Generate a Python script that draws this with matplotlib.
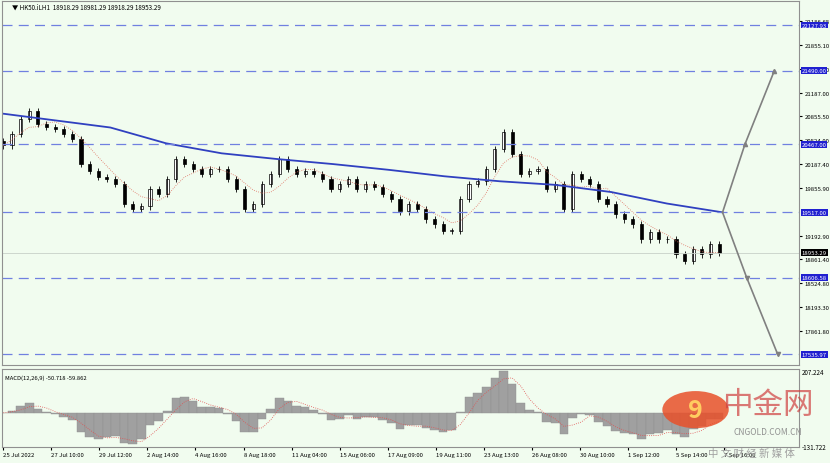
import matplotlib.pyplot as plt
import numpy as np
import pandas as pd
from matplotlib.patches import Rectangle, Circle

plt.rcParams['font.family'] = ['Noto Sans CJK SC', 'DejaVu Sans']

# hourly closes (sampled), HK50
closes = [20450, 20610, 20820, 20930, 20750, 20710, 20680, 20610, 20540, 20190,
          20090, 20010, 19980, 19910, 19630, 19560, 19600, 19840, 19770, 19980,
          20260, 20190, 20120, 20050, 20120, 20120, 19980, 19840, 19560, 19630,
          19910, 20050, 20260, 20120, 20050, 20090, 20050, 19980, 19840, 19910,
          19980, 19840, 19910, 19870, 19770, 19700, 19530, 19630, 19560, 19420,
          19350, 19260, 19260, 19700, 19910, 19950, 20120, 20400, 20640, 20330,
          20050, 20090, 20120, 19840, 19910, 19560, 20050, 19980, 19910, 19700,
          19630, 19490, 19420, 19350, 19140, 19240, 19140, 19140, 18930, 18840,
          19000, 18930, 19070, 18953]
slow_ma = [20900, 20800, 20700, 20480, 20340, 20260, 20190, 20110, 20020, 19950,
           19900, 19800, 19640, 19517]
levels = [22127.93, 21490.00, 20467.00, 19517.00, 18606.58, 17535.97]
yticks = [22186.65, 21855.10, 21518.50, 21187.00, 20855.50, 20524.00, 20187.40,
          19855.90, 19192.90, 18861.40, 18524.80, 18193.30, 17861.80]
xlabels = ['25 Jul 2022', '27 Jul 10:00', '29 Jul 12:00', '2 Aug 14:00', '4 Aug 16:00',
           '8 Aug 18:00', '11 Aug 04:00', '15 Aug 06:00', '17 Aug 09:00', '19 Aug 11:00',
           '23 Aug 13:00', '26 Aug 08:00', '30 Aug 10:00', '1 Sep 12:00', '5 Sep 14:00',
           '7 Sep 16:00']
n = len(closes)
# projection paths (bar index, price)
up_x = [n - 0.6, n + 2.0, n + 5.4]
up_y = [19517, 20467, 21490]
dn_x = [n - 0.6, n + 2.2, n + 5.8]
dn_y = [19517, 18606.58, 17535.97]
current = 18953.29

bg = '#f1fcef'
fig = plt.figure(figsize=(8.3, 4.64), dpi=100, facecolor=bg)
ax = fig.add_axes([0.003, 0.211, 0.96, 0.785], facecolor=bg)
mx = fig.add_axes([0.003, 0.035, 0.96, 0.168], facecolor=bg, sharex=ax)

opens = [closes[0] + 60] + closes[:-1]
for i, (o, c) in enumerate(zip(opens, closes)):
    lo, hi = min(o, c), max(o, c)
    ax.vlines(i, lo - 45, hi + 45, color='black', lw=0.6)
    ax.add_patch(Rectangle((i - 0.18, lo), 0.36, max(hi - lo, 8),
                           facecolor='white' if c >= o else 'black',
                           edgecolor='black', lw=0.5))

fast = pd.Series(closes).rolling(5, min_periods=1).mean()
ax.plot(range(n), fast, color='#e07060', lw=0.6, ls=':')
ax.plot(np.linspace(-0.5, n - 0.6, len(slow_ma)), slow_ma, color='#3040c0', lw=1.3)

for lv in levels:
    ax.axhline(lv, color='#7080e0', lw=0.9, ls=(0, (8, 5)))
ax.axhline(current, color='#c8d0c8', lw=0.6)

ax.plot(up_x, up_y, color='#808080', lw=1.2, marker='^', markevery=[1, 2], ms=3)
ax.plot(dn_x, dn_y, color='#808080', lw=1.2, marker='v', markevery=[1, 2], ms=3)

ax.set_ylim(17387, 22466)
ax.set_xlim(-0.1, 92.3)
ax.yaxis.tick_right()
ax.set_yticks(yticks)
ax.set_yticklabels([f'{t:.2f}' for t in yticks], fontsize=4.3)
ax.tick_params(axis='y', length=2, pad=2)
ax.tick_params(axis='x', bottom=False, labelbottom=False)
for lv in levels:
    ax.text(1.003, lv, f'{lv:.2f}', transform=ax.get_yaxis_transform(), fontsize=4.3,
            color='white', va='center', bbox=dict(boxstyle='square,pad=0.15', fc='#2020d0', ec='none'))
ax.text(1.003, current, f'{current:.2f}', transform=ax.get_yaxis_transform(), fontsize=4.3,
        color='white', va='center', bbox=dict(boxstyle='square,pad=0.15', fc='black', ec='none'))
ax.text(0.012, 0.995, '▼ HK50.iLH1  18918.29 18981.29 18918.29 18953.29', transform=ax.transAxes,
        fontsize=4.5, va='top')

# MACD
s = pd.Series(closes)
macd = s.ewm(span=3).mean() - s.ewm(span=7).mean()
signal = macd.rolling(3, min_periods=1).mean()
mx.bar(range(n), macd, width=1.0, color='#a0a0a0', edgecolor='#909090', lw=0.3)
mx.plot(range(n), signal, color='#e05050', lw=0.6, ls=':')
top, bot = macd.max() * 1.05, macd.min() * 1.1
mx.set_ylim(bot, top)
mx.yaxis.tick_right()
mx.set_yticks([top * 0.95, bot * 0.97])
mx.set_yticklabels(['207.224', '-131.722'], fontsize=4.5)
mx.tick_params(axis='y', length=0, pad=2)
mx.text(0.003, 0.93, 'MACD(12,26,9) -50.718 -59.862', transform=mx.transAxes, fontsize=4.2, va='top')
mx.set_xticks(np.arange(len(xlabels)) * 5.57)
mx.set_xticklabels(xlabels, fontsize=4.3, ha='left')
mx.tick_params(axis='x', length=2, pad=1.5)

for a in (ax, mx):
    for sp in a.spines.values():
        sp.set_color('#909090')
        sp.set_linewidth(0.8)

# watermark
fig.patches.append(Circle((0.838, 0.115), 0.04, transform=fig.transFigure,
                          facecolor='#e8502a', edgecolor='none', alpha=0.85))
fig.text(0.838, 0.115, '9', fontsize=18, color='#ffcc60', ha='center', va='center', weight='bold')
fig.text(0.925, 0.125, '中金网', fontsize=22, color='#d04040', ha='center', va='center', alpha=0.7)
fig.text(0.925, 0.068, 'CNGOLD.COM.CN', fontsize=6, color='#909090', ha='center', va='center')
fig.text(0.905, 0.022, '中 文 财 经 新 媒 体', fontsize=7.5, color='#a0a0a0', ha='center', va='center')

fig.savefig('out.png', dpi=100, facecolor=bg)
